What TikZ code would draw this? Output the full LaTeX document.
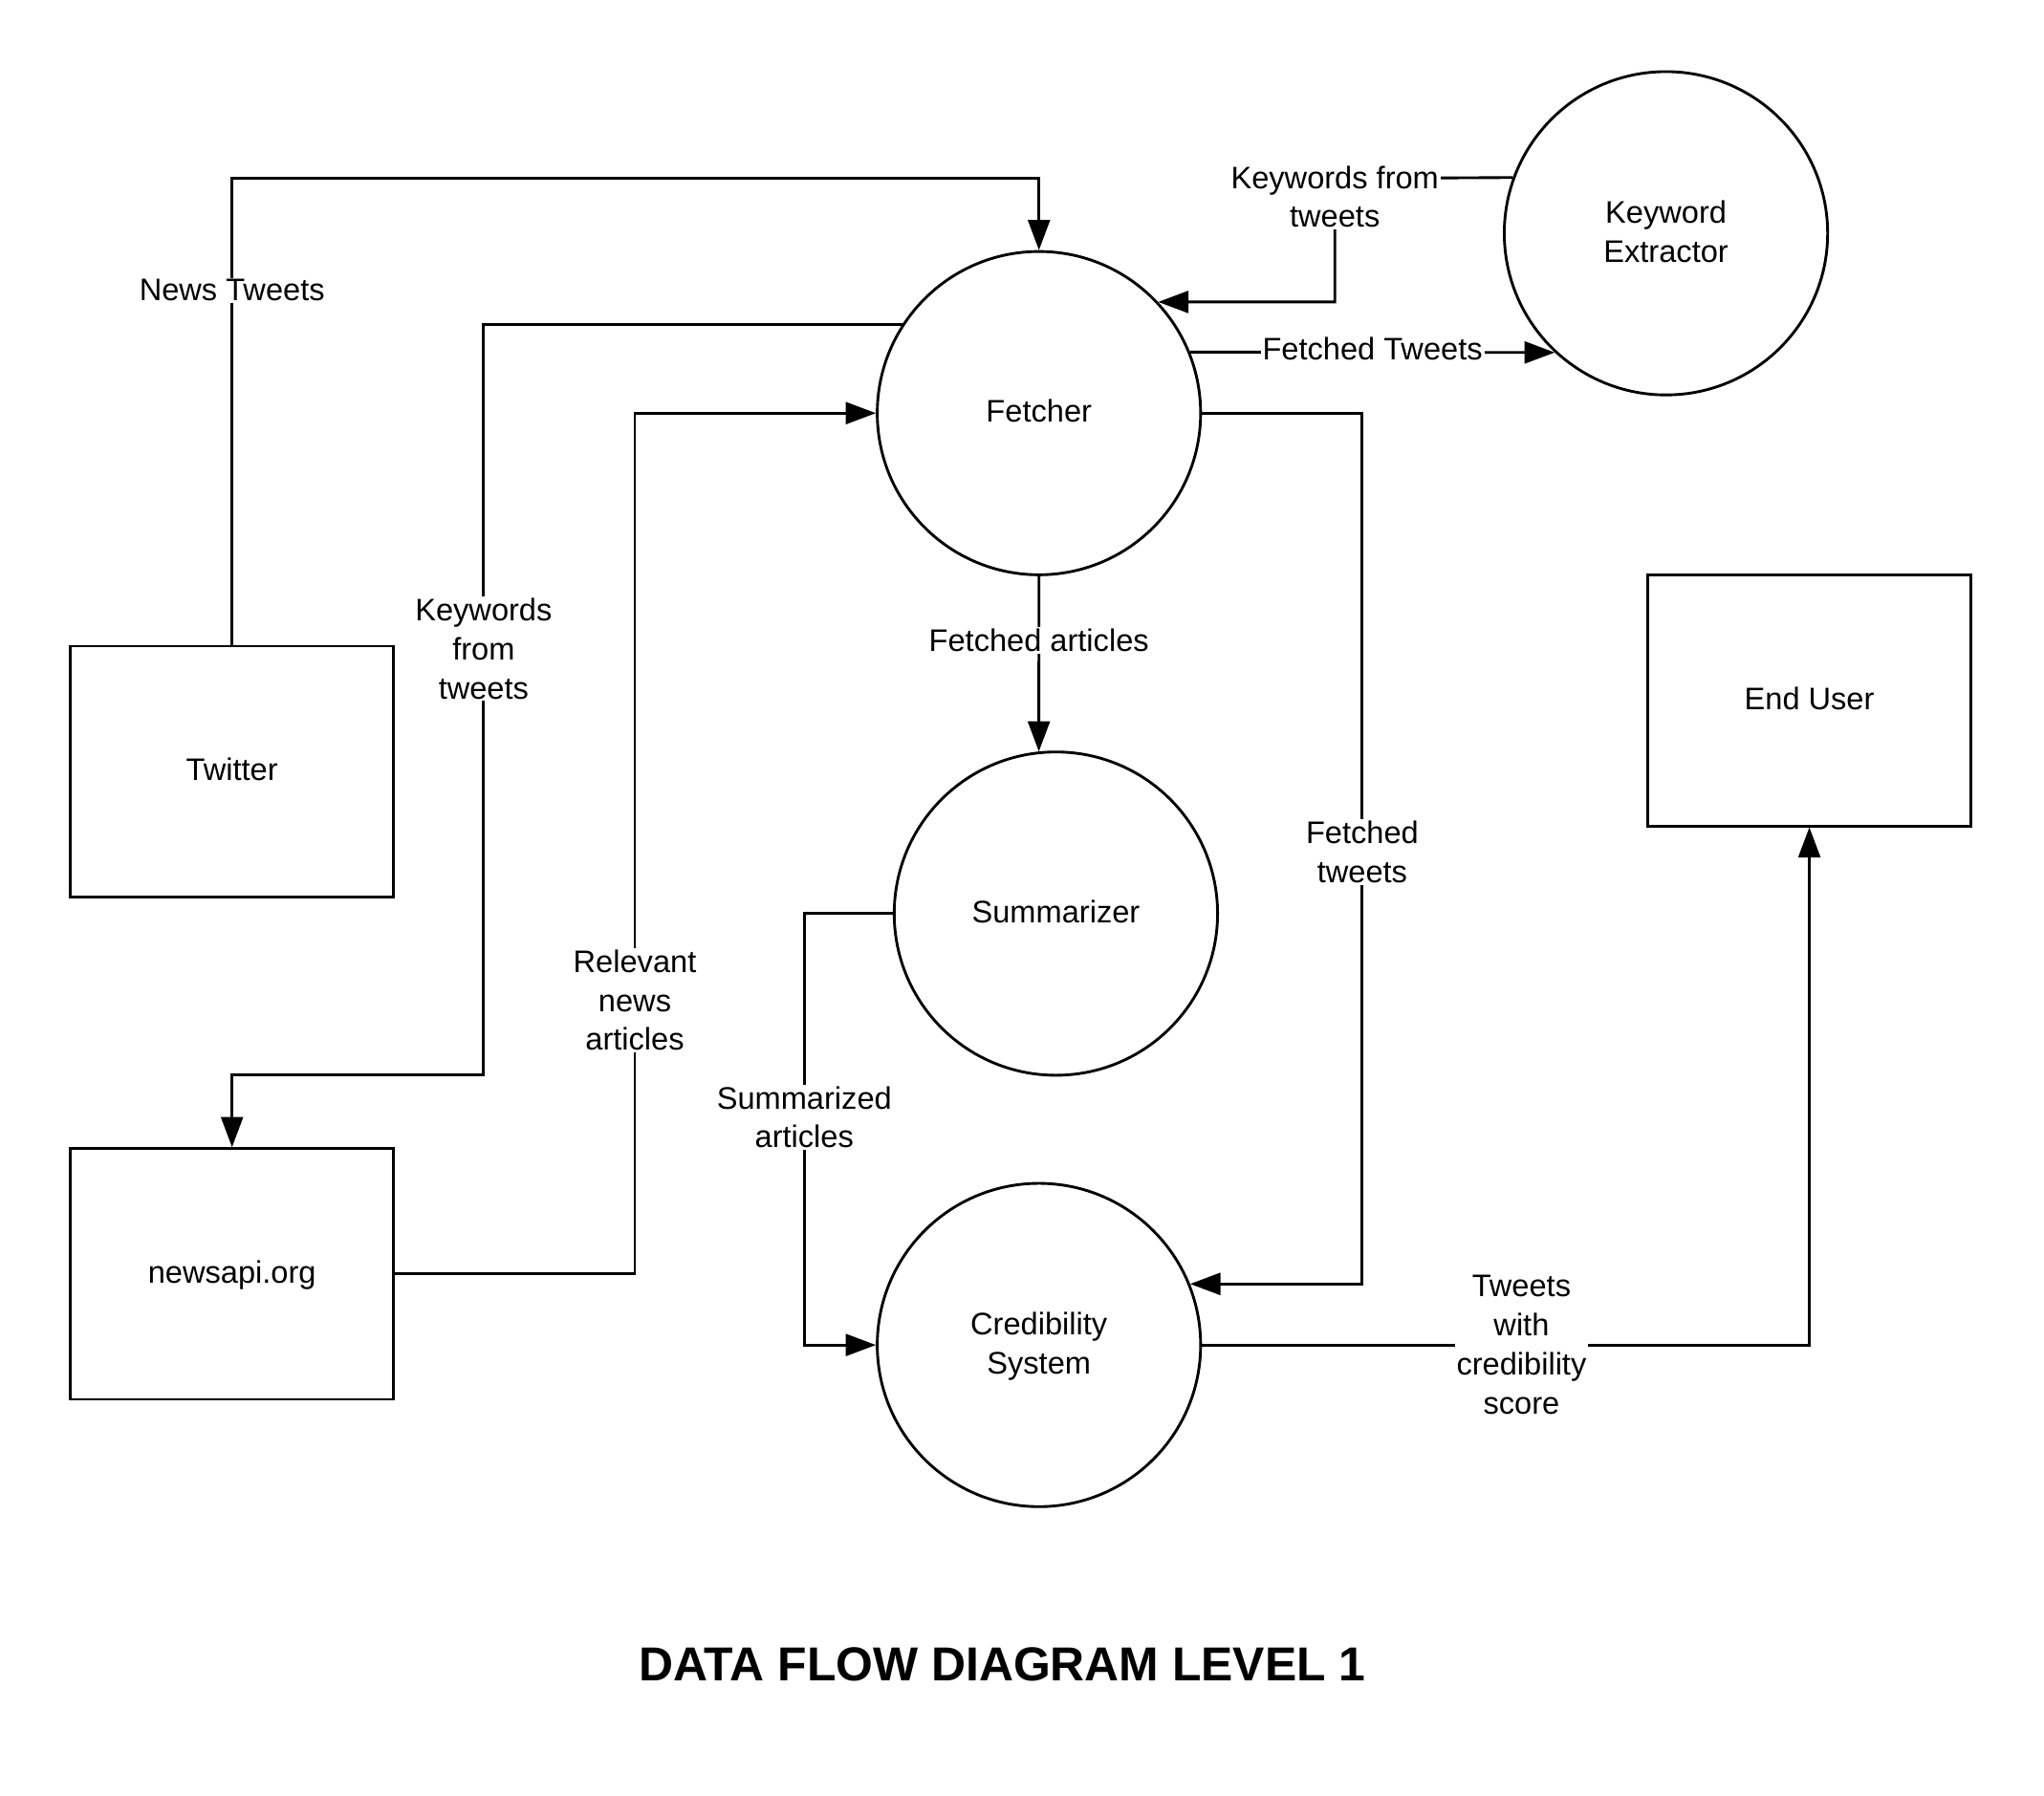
\documentclass[tikz,border=0pt]{standalone}
\usepackage{fontspec}
\setmainfont{Liberation Sans}
\usepackage{tikz}
\usetikzlibrary{arrows.meta, positioning}

\newcommand{\dfdfont}{\fontsize{17}{21.3}\selectfont}
\newcommand{\dfdtitle}{\fontsize{26}{30}\selectfont\bfseries}

\tikzset{
    proc/.style={draw, line width=1.5pt, circle, minimum size=6.2cm, align=center, text depth=0.22em, font=\dfdfont},
    ent/.style={draw, line width=1.5pt, rectangle, minimum width=6.2cm, minimum height=4.81cm, align=center, text depth=0.22em, font=\dfdfont},
    flow/.style={line width=1.5pt, -{Triangle[length=0.58cm, width=0.42cm]}},
    lbl/.style={fill=white, inner sep=1pt, align=center, font=\dfdfont}
}

\begin{document}
\begin{tikzpicture}[x=0.025cm, y=-0.025cm]
        \useasboundingbox (0,0) rectangle (1568,1378);

        \node[proc] (fetch) at (797,317) {Fetcher};
        \node[proc] (kex) at (1278,179) {Keyword\\Extractor};
        \node[proc] (summ) at (810,701) {Summarizer};
        \node[proc] (cred) at (797,1032) {Credibility\\System};

        \node[ent] (tw) at (178,592) {Twitter};
        \node[ent] (news) at (178,977.5) {newsapi.org};
        \node[ent] (user) at (1388,537.5) {End User};

        \node[font=\dfdtitle] (ttl) at (769,1277) {DATA FLOW DIAGRAM LEVEL 1};

        \draw[flow] (tw.north) -- node[lbl, pos=0.76] {News Tweets} (178,137) -| (fetch.north);
        \draw[flow] (fetch.147.3) -| node[lbl, pos=0.716] {Keywords\\from\\tweets} (371,825) -| (news.north);
        \draw[flow] (news.east) -- (487,977.5) |- node[lbl, pos=0.159] {Relevant\\news\\articles} (fetch.west);
        \draw[flow] (kex.160.2) -- (1024,137) node[lbl, yshift=-0.35cm] {Keywords from\\tweets} |- (fetch.43.3);
        \draw[flow] (fetch.22.3) -- node[lbl, yshift=0.07cm] {Fetched Tweets} (kex.227.2);
        \draw[flow] (fetch.south) -- node[lbl, pos=0.366] {Fetched articles} (summ.96);
        \draw[flow] (fetch.east) -- (1045,317) |- node[lbl, pos=0.252] {Fetched\\tweets} (cred.22.3);
        \draw[flow] (summ.west) -- (617,701) |- node[lbl, pos=0.236] {Summarized\\articles} (cred.west);
        \draw[flow] (cred.east) -| node[lbl, pos=0.263] {Tweets\\with\\credibility\\score} (user.south);
    \end{tikzpicture}
\end{document}
